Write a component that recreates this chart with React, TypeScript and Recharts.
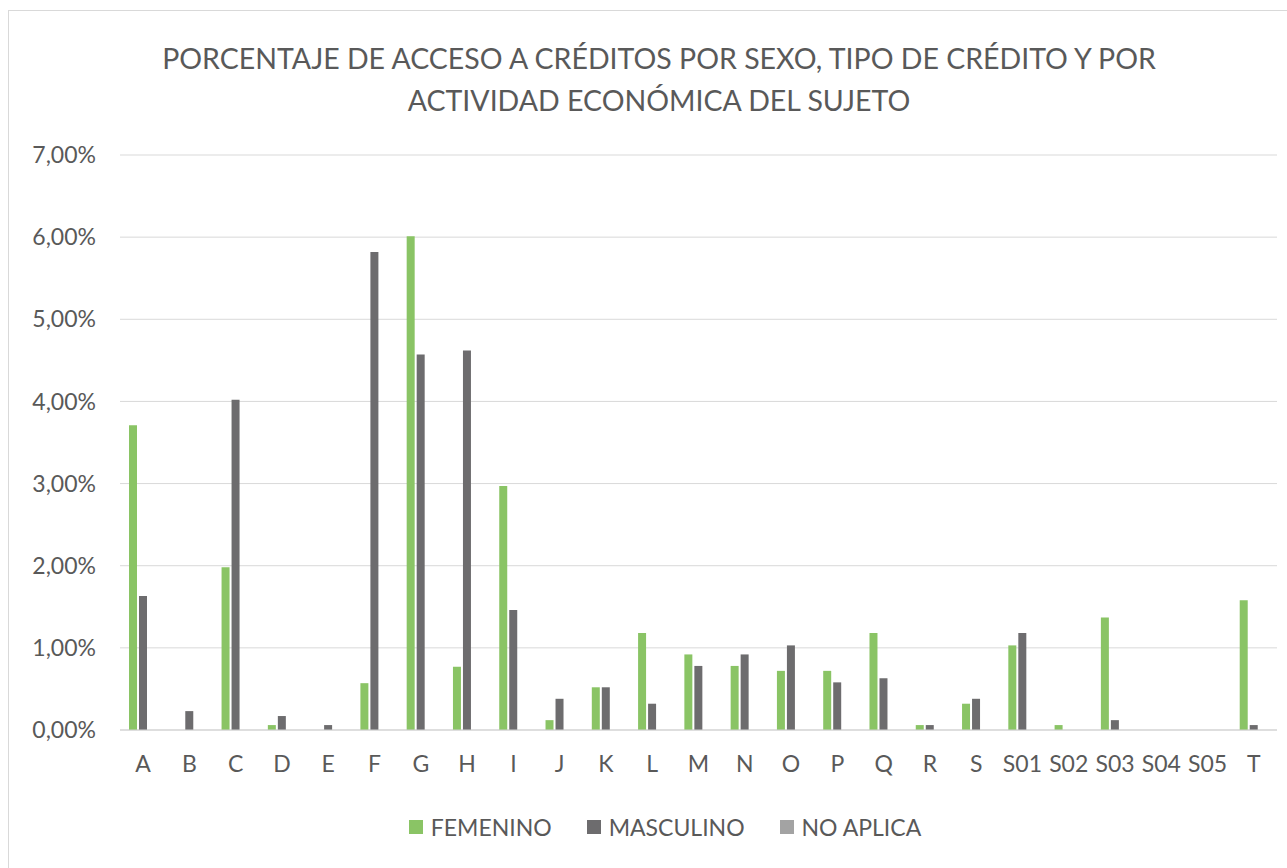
import React from 'react';
import { BarChart, Bar, XAxis, YAxis, CartesianGrid, Legend } from 'recharts';

const categories = ['A','B','C','D','E','F','G','H','I','J','K','L','M','N','O','P','Q','R','S','S01','S02','S03','S04','S05','T'];
const femenino = [3.71, 0, 1.98, 0.06, 0, 0.57, 6.01, 0.77, 2.97, 0.12, 0.52, 1.18, 0.92, 0.78, 0.72, 0.72, 1.18, 0.06, 0.32, 1.03, 0.06, 1.37, 0, 0, 1.58];
const masculino = [1.63, 0.23, 4.02, 0.17, 0.06, 5.82, 4.57, 4.62, 1.46, 0.38, 0.52, 0.32, 0.78, 0.92, 1.03, 0.58, 0.63, 0.06, 0.38, 1.18, 0, 0.12, 0, 0, 0.06];
const noAplica = [0, 0, 0, 0, 0, 0, 0, 0, 0, 0, 0, 0, 0, 0, 0, 0, 0, 0, 0, 0, 0, 0, 0, 0, 0];
const yTicks = [0, 1, 2, 3, 4, 5, 6, 7];
const titleLines = ['PORCENTAJE DE ACCESO A CRÉDITOS POR SEXO, TIPO DE CRÉDITO Y POR', 'ACTIVIDAD ECONÓMICA DEL SUJETO'];

const data = categories.map((c, i) => ({
  name: c,
  FEMENINO: femenino[i],
  MASCULINO: masculino[i],
  'NO APLICA': noAplica[i],
}));

const FONT = 'Lato, "Open Sans", sans-serif';
const TEXT = '#595959';
const GREEN = '#8AC465';
const DARK = '#6D6C6E';
const LIGHT = '#A3A3A3';

const fmt = (v: number) => v.toFixed(2).replace('.', ',') + '%';

const renderLegend = (props: any) => {
  const { payload } = props;
  return (
    <div style={{ height: 30, display: 'flex', alignItems: 'center', justifyContent: 'center', paddingLeft: 43, fontFamily: FONT, fontSize: 23, color: TEXT }}>
      {payload.map((p: any, i: number) => (
        <div key={i} style={{ display: 'flex', alignItems: 'center', marginRight: i < payload.length - 1 ? 35 : 0 }}>
          <div style={{ width: 14, height: 14, background: p.color, marginRight: 8 }} />
          <span>{p.value}</span>
        </div>
      ))}
    </div>
  );
};

export default function App() {
  return (
    <div style={{ position: 'absolute', left: 0, top: 0, width: 1287, height: 868, overflow: 'hidden', background: '#fff' }}>
      <div style={{ position: 'absolute', left: 8, top: 10, width: 1400, height: 1000, border: '1px solid #d9d9d9', boxSizing: 'border-box' }} />
      <div style={{ position: 'absolute', left: 0, top: 37, width: 1318, textAlign: 'center', fontFamily: FONT, fontSize: 28.5, color: TEXT, lineHeight: '42px' }}>
        {titleLines.map((t, i) => <div key={i}>{t}</div>)}
      </div>
      <div style={{ position: 'absolute', left: 0, top: 0 }}>
        <BarChart width={1287} height={868} data={data} margin={{ top: 155, right: 10, left: 20, bottom: 26 }} barSize={8} barGap={2}>
          <CartesianGrid vertical={false} stroke="#d9d9d9" strokeWidth={1} />
          <XAxis dataKey="name" height={82} tickLine={false} axisLine={{ stroke: '#d0d0d0' }} tickMargin={20} tick={{ fill: TEXT, fontSize: 23, fontFamily: FONT }} interval={0} />
          <YAxis width={100} domain={[0, 7]} ticks={yTicks} tickFormatter={fmt} axisLine={false} tickLine={false} tickMargin={18} tick={{ fill: TEXT, fontSize: 23, fontFamily: FONT }} />
          <Legend verticalAlign="bottom" content={renderLegend} wrapperStyle={{ left: 0, width: 1287 }} />
          <Bar dataKey="FEMENINO" fill={GREEN} isAnimationActive={false} />
          <Bar dataKey="MASCULINO" fill={DARK} isAnimationActive={false} />
          <Bar dataKey="NO APLICA" fill={LIGHT} isAnimationActive={false} />
        </BarChart>
      </div>
    </div>
  );
}
